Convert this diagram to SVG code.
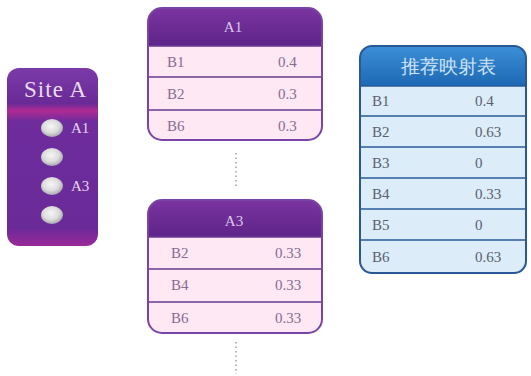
<svg xmlns="http://www.w3.org/2000/svg" width="531" height="376" viewBox="0 0 531 376">
<defs>
<linearGradient id="siteG" x1="0" y1="0" x2="0" y2="1">
<stop offset="0" stop-color="#7a3aa8"/>
<stop offset="0.2" stop-color="#6a2a96"/>
<stop offset="0.24" stop-color="#b02a94"/>
<stop offset="0.3" stop-color="#6e2c9c"/>
<stop offset="0.9" stop-color="#6a2a98"/>
<stop offset="1" stop-color="#9a2a98"/>
</linearGradient>
<linearGradient id="purpHead" x1="0" y1="0" x2="0" y2="1">
<stop offset="0" stop-color="#7a34a0"/>
<stop offset="1" stop-color="#5e2488"/>
</linearGradient>
<linearGradient id="blueHead" x1="0" y1="0" x2="0" y2="1">
<stop offset="0" stop-color="#3c8fd6"/>
<stop offset="1" stop-color="#1d68b4"/>
</linearGradient>
<radialGradient id="ball" cx="0.45" cy="0.4" r="0.6">
<stop offset="0" stop-color="#f6f6f6"/>
<stop offset="0.6" stop-color="#dcdcdc"/>
<stop offset="1" stop-color="#a8a8b0"/>
</radialGradient>
<clipPath id="cA1"><rect x="148" y="8" width="174" height="132" rx="14"/></clipPath>
<clipPath id="cA3"><rect x="148" y="200" width="174" height="133" rx="14"/></clipPath>
<clipPath id="cR"><rect x="360" y="46" width="166" height="227" rx="12"/></clipPath>
</defs>
<style>
text{font-family:"Liberation Serif","DejaVu Serif",serif;}
.ptxt{font-size:15px;fill:#8a6a92;}
.btxt{font-size:15px;fill:#5a6070;}
.psep{stroke:#6a3a90;stroke-width:1.5;}
.bsep{stroke:#2a5a9a;stroke-width:1.5;}
.pborder{fill:none;stroke:#7a44a4;stroke-width:2;}
.bborder{fill:none;stroke:#2a5896;stroke-width:2;}
.dots{stroke:#a0a0a0;stroke-width:1.5;stroke-dasharray:1.5 3;fill:none;}
</style>
<g id="siteA">
<rect x="7" y="68" width="91" height="178" rx="12" fill="url(#siteG)"/>
<text x="55" y="97" text-anchor="middle" font-size="23" fill="#eadcf4" textLength="62">Site A</text>
<ellipse cx="52" cy="128" rx="11" ry="9" fill="url(#ball)"/>
<ellipse cx="52" cy="157" rx="11" ry="9" fill="url(#ball)"/>
<ellipse cx="52" cy="186" rx="11" ry="9" fill="url(#ball)"/>
<ellipse cx="52" cy="215" rx="11" ry="9" fill="url(#ball)"/>
<text x="71" y="133" font-size="15" fill="#e6d6f2">A1</text>
<text x="71" y="191" font-size="15" fill="#e6d6f2">A3</text>
</g>
<g id="tableA1">
<g clip-path="url(#cA1)">
<rect x="148" y="8" width="174" height="132" fill="#fde8f3"/>
<rect x="148" y="8" width="174" height="38" fill="url(#purpHead)"/>
</g>
<line class="psep" x1="148" y1="46" x2="322" y2="46"/>
<line class="psep" x1="148" y1="77" x2="322" y2="77"/>
<line class="psep" x1="148" y1="110" x2="322" y2="110"/>
<rect class="pborder" x="148" y="8" width="174" height="132" rx="14"/>
<text x="233" y="32" text-anchor="middle" font-size="15" fill="#dcc8ec">A1</text>
<text class="ptxt" x="167" y="67">B1</text><text class="ptxt" x="278" y="67">0.4</text>
<text class="ptxt" x="167" y="99">B2</text><text class="ptxt" x="278" y="99">0.3</text>
<text class="ptxt" x="167" y="131">B6</text><text class="ptxt" x="278" y="131">0.3</text>
</g>
<g id="tableA3">
<g clip-path="url(#cA3)">
<rect x="148" y="200" width="174" height="133" fill="#fde8f3"/>
<rect x="148" y="200" width="174" height="37" fill="url(#purpHead)"/>
</g>
<line class="psep" x1="148" y1="237" x2="322" y2="237"/>
<line class="psep" x1="148" y1="269" x2="322" y2="269"/>
<line class="psep" x1="148" y1="302" x2="322" y2="302"/>
<rect class="pborder" x="148" y="200" width="174" height="133" rx="14"/>
<text x="234" y="226" text-anchor="middle" font-size="15" fill="#dcc8ec">A3</text>
<text class="ptxt" x="171" y="258">B2</text><text class="ptxt" x="275" y="258">0.33</text>
<text class="ptxt" x="171" y="290">B4</text><text class="ptxt" x="275" y="290">0.33</text>
<text class="ptxt" x="171" y="323">B6</text><text class="ptxt" x="275" y="323">0.33</text>
</g>
<g id="tableRec">
<g clip-path="url(#cR)">
<rect x="360" y="46" width="166" height="227" fill="#dcecf8"/>
<rect x="360" y="46" width="166" height="40" fill="url(#blueHead)"/>
</g>
<line class="bsep" x1="360" y1="86" x2="526" y2="86"/>
<line class="bsep" x1="360" y1="116" x2="526" y2="116"/>
<line class="bsep" x1="360" y1="147" x2="526" y2="147"/>
<line class="bsep" x1="360" y1="178" x2="526" y2="178"/>
<line class="bsep" x1="360" y1="209" x2="526" y2="209"/>
<line class="bsep" x1="360" y1="240" x2="526" y2="240"/>
<rect class="bborder" x="360" y="46" width="166" height="227" rx="12"/>
<text x="448" y="73" text-anchor="middle" font-size="19" fill="#cfe3f7" font-family="'Noto Sans CJK SC',sans-serif">推荐映射表</text>
<text class="btxt" x="372" y="106">B1</text><text class="btxt" x="475" y="106">0.4</text>
<text class="btxt" x="372" y="137">B2</text><text class="btxt" x="475" y="137">0.63</text>
<text class="btxt" x="372" y="168">B3</text><text class="btxt" x="475" y="168">0</text>
<text class="btxt" x="372" y="199">B4</text><text class="btxt" x="475" y="199">0.33</text>
<text class="btxt" x="372" y="230">B5</text><text class="btxt" x="475" y="230">0</text>
<text class="btxt" x="372" y="262">B6</text><text class="btxt" x="475" y="262">0.63</text>
</g>
<g id="connectors">
<line class="dots" x1="236" y1="153" x2="236" y2="186"/>
<line class="dots" x1="236" y1="342" x2="236" y2="374"/>
</g>
</svg>
